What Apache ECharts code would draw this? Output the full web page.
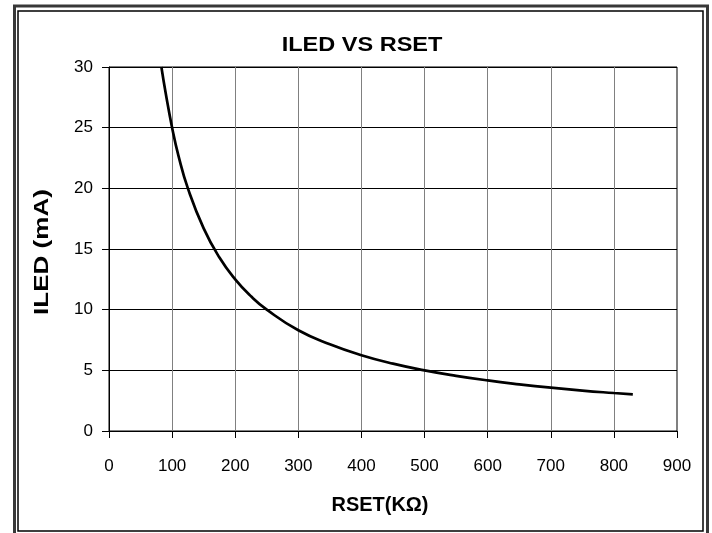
<!DOCTYPE html>
<html>
<head>
<meta charset="utf-8">
<script src="https://cdn.jsdelivr.net/npm/echarts@6/dist/echarts.min.js"></script>
<style>
html,body{margin:0;padding:0;background:#fff;}
#chart{width:712px;height:533px;}
</style>
</head>
<body>
<div id="chart"></div>
<script>
const chartTitle = 'ILED VS RSET';
const xAxisTitle = 'RSET(KΩ)';
const yAxisTitle = 'ILED (mA)';
const rsetValues = [83, 90, 100, 110, 125, 150, 175, 200, 225, 250, 300, 350, 400, 450, 500, 550, 600, 650, 700, 750, 800, 830];
const iledValues = [30, 27.8, 25, 22.7, 20, 16.7, 14.3, 12.5, 11.1, 10, 8.3, 7.15, 6.25, 5.55, 5, 4.55, 4.17, 3.85, 3.57, 3.33, 3.13, 3.02];
const xTicks = {min: 0, max: 900, interval: 100};
const yTicks = {min: 0, max: 30, interval: 5};

const font = '"Liberation Sans", Arial, sans-serif';
const chart = echarts.init(document.getElementById('chart'), null, {renderer: 'canvas'});
const points = rsetValues.map((r, i) => [r, iledValues[i]]);

chart.setOption({
  animation: false,
  backgroundColor: '#fff',
  grid: {left: 109, right: 35, top: 67, bottom: 102, show: true, borderColor: '#000', borderWidth: 1, backgroundColor: 'transparent'},
  xAxis: {
    type: 'value', min: xTicks.min, max: xTicks.max, interval: xTicks.interval,
    axisLine: {show: true, lineStyle: {color: '#000', width: 1}},
    axisTick: {show: true, inside: false, length: 7, lineStyle: {color: '#000'}},
    axisLabel: {color: '#000', fontFamily: font, fontSize: 17, margin: 27},
    splitLine: {show: true, lineStyle: {color: '#808080', width: 1}}
  },
  yAxis: {
    type: 'value', min: yTicks.min, max: yTicks.max, interval: yTicks.interval,
    axisLine: {show: true, lineStyle: {color: '#000', width: 1}},
    axisTick: {show: true, inside: false, length: 7, lineStyle: {color: '#000'}},
    axisLabel: {color: '#000', fontFamily: font, fontSize: 17, margin: 16},
    splitLine: {show: true, lineStyle: {color: '#000', width: 1}}
  },
  series: [{
    type: 'line', data: points, smooth: true, showSymbol: false,
    lineStyle: {color: '#000', width: 2.7}, clip: true
  }],
  graphic: [
    {type: 'rect', shape: {x: 14.5, y: 6, width: 693, height: 540}, style: {fill: 'none', stroke: '#383838', lineWidth: 3}, silent: true, z: 100},
    {type: 'rect', shape: {x: 18, y: 11, width: 685, height: 520}, style: {fill: 'none', stroke: '#000', lineWidth: 1.5}, silent: true, z: 100},
    {type: 'text', x: 362, y: 45, scaleX: 1.12, style: {text: chartTitle, font: 'bold 21px ' + font, fill: '#000', align: 'center', verticalAlign: 'middle'}, z: 100},
    {type: 'text', x: 380, y: 505, scaleX: 0.95, style: {text: xAxisTitle, font: 'bold 21px ' + font, fill: '#000', align: 'center', verticalAlign: 'middle'}, z: 100},
    {type: 'text', x: 42.5, y: 252, rotation: Math.PI / 2, scaleX: 1.24, style: {text: yAxisTitle, font: 'bold 21px ' + font, fill: '#000', align: 'center', verticalAlign: 'middle'}, z: 100}
  ]
});
</script>
</body>
</html>
